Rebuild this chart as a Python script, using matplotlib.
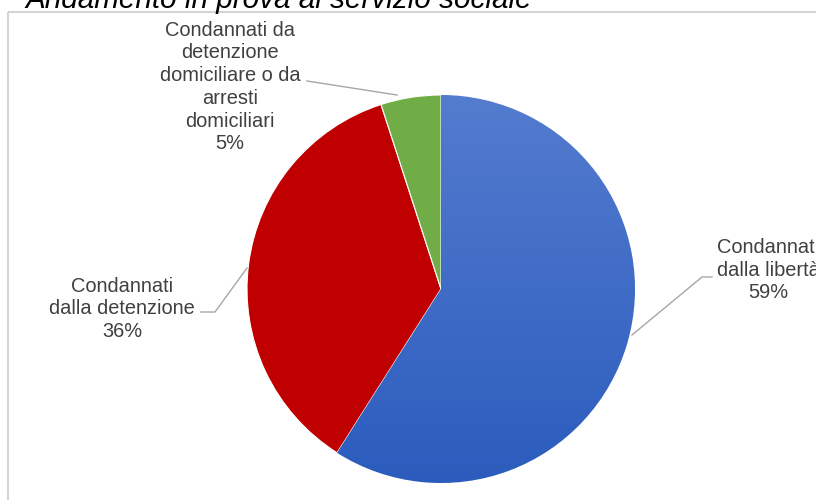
import numpy as np
import matplotlib
matplotlib.use("Agg")
from matplotlib import pyplot as plt
from matplotlib.colors import LinearSegmentedColormap

plt.rcParams['font.family'] = ['Liberation Sans', 'DejaVu Sans']

title = "Andamento in prova al servizio sociale"
categories = ["Condannati\ndalla libertà",
              "Condannati\ndalla detenzione",
              "Condannati da\ndetenzione\ndomiciliare o da\narresti\ndomiciliari"]
values = [59, 36, 5]
colors = ["#3F6BC8", "#C00000", "#70AD47"]

W, H = 816, 500
fig = plt.figure(figsize=(W / 100, H / 100), dpi=100)
ax = fig.add_axes([0, 0, 1, 1])


def fy(y):
    # pixel row (from top) -> data y
    return H - y


cx, cy, r = 441, fy(289), 194

wedges, _ = ax.pie(values, colors=colors, startangle=90, counterclock=False,
                   center=(cx, cy), radius=r, frame=True,
                   wedgeprops=dict(edgecolor="white", linewidth=0.8))

# vertical gradient on the blue slice, like the office chart
grad = np.linspace(0, 1, 256).reshape(-1, 1)
cmap = LinearSegmentedColormap.from_list("blu", ["#2B5CBD", "#547CCF"])
im = ax.imshow(grad, extent=[cx - r, cx + r, cy - r, cy + r], origin="lower",
               cmap=cmap, aspect="auto", zorder=wedges[0].get_zorder() + 0.1)
im.set_clip_path(wedges[0])

ax.set_xlim(0, W)
ax.set_ylim(0, H)
ax.set_aspect("equal")
ax.axis("off")

# frame of the chart area
ax.plot([8, 8], [fy(12), fy(H)], color="#D4D4D4", lw=1.5, solid_capstyle="butt")
ax.plot([8, W], [fy(12), fy(12)], color="#D4D4D4", lw=1.5, solid_capstyle="butt")

fig.text(25 / W, 1 - 8 / H, title, ha="left", va="baseline",
         fontsize=21.3, style="italic", color="black")

txt = dict(fontsize=14.4, color="#404040", ha="center", va="center",
           linespacing=1.25)
label_pos = [(768, 270), (122, 309), (230, 87)]
for cat, v, (lx, ly) in zip(categories, values, label_pos):
    ax.text(lx, fy(ly), f"{cat}\n{v}%", **txt)

# leader lines
lc = dict(color="#A6A6A6", lw=1.0)
ax.plot([632, 702, 712], [fy(335), fy(277), fy(277)], **lc)
ax.plot([247, 215, 201], [fy(268), fy(312), fy(312)], **lc)
ax.plot([397, 307], [fy(95), fy(81)], **lc)

fig.savefig("out.png", dpi=100)
